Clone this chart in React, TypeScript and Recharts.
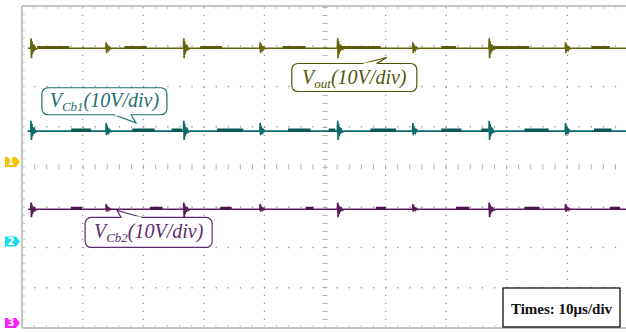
import React from 'react';
import { LineChart, Line, XAxis, YAxis, ReferenceLine, ReferenceDot } from 'recharts';

// time in µs (10 µs/div), level in divisions (0 = bottom of screen)
const xMajor = [0, 10, 20, 30, 40, 50, 60, 70, 80, 90, 100];
const yMajor = [0, 1, 2, 3, 4, 5, 6, 7, 8];
const xMinor = Array.from({ length: 51 }, (_, i) => i * 2);
const yMinor = Array.from({ length: 41 }, (_, i) => +(i * 0.2).toFixed(1));

const bigSpikeTimes = [1.5, 26.7, 52.1, 77.1];
const smallSpikeTimes = [13.9, 39.3, 64.5, 89.7];

// ringing pattern of one switching spike: [dt µs, relative amplitude]
const ringShape = [
  [-0.05, 0], [0, 1], [0.06, -1], [0.14, 0.7], [0.22, -0.6], [0.32, 0.4],
  [0.45, -0.3], [0.6, 0.15], [0.8, -0.1], [1.0, 0],
];

const voutLevel = 6.95;
const vcb1Level = 4.89;
const vcb2Level = 2.95;

const voutBig = { up: 0.25, down: 0.25 };
const voutSmall = { up: 0.15, down: 0.12 };
const vcb1Big = { up: 0.26, down: 0.22 };
const vcb1Small = { up: 0.2, down: 0.1 };
const vcb2Big = { up: 0.17, down: 0.2 };
const vcb2Small = { up: 0.13, down: 0.06 };

// thicker noisy stretches of each trace [start, end] µs
const voutBands = [[2.5, 7.8], [16.9, 20.6], [29.4, 33], [43, 46.8], [52.5, 59.2], [69.2, 71.6], [77.8, 83.7], [94, 97]];
const vcb1Bands = [[8.1, 11.4], [18.2, 21.9], [24.7, 26.4], [32.2, 36.5], [43.9, 47.6], [50.6, 51.7], [57.5, 61.7], [69.2, 72.5], [75.8, 76.9], [82.9, 86.9], [94.4, 97.3]];
const vcb2Bands = [[8.1, 9.9], [21.1, 23.2], [32.7, 34.6], [46.8, 48.1], [58.4, 60.0], [71.6, 73.8], [82.9, 85.4], [97.0, 98.7]];

// channel ground markers
const markerNames = ['1', '2', '3'];
const markerLevels = [4.125, 2.15, 0.125];
const markerColors = ['#f5c200', '#19dcf0', '#ff1cff'];

// callout labels, anchored at the pointer tip
const labelSubs = ['out', 'Cb1', 'Cb2'];
const labelTimes = [60.2, 18.8, 15.7];
const labelLevels = [6.72, 5.1, 2.92];
const labelColors = ['#55550a', '#1f6e6e', '#5e2b6e'];
const labelBoxes = [
  { l: -95, r: 30, t: 6, b: 34, b1: -24, b2: -10, edge: 'top' },
  { l: -94, r: 31, t: -35, b: -8, b1: -22, b2: -5, edge: 'bottom' },
  { l: -32, r: 95, t: 7, b: 37, b1: 4, b2: 25, edge: 'top' },
];

type Amp = { up: number; down: number };

const buildTrace = (level: number, start: number, big: Amp, small: Amp) => {
  const spikes = [
    ...bigSpikeTimes.map((t) => ({ t, a: big })),
    ...smallSpikeTimes.map((t) => ({ t, a: small })),
  ].sort((p, q) => p.t - q.t);
  const pts: { t: number; v: number }[] = [{ t: start, v: level }];
  spikes.forEach((s) =>
    ringShape.forEach(([dt, r]) =>
      pts.push({ t: s.t + dt, v: level + (r >= 0 ? r * s.a.up : r * s.a.down) })
    )
  );
  pts.push({ t: 100, v: level });
  return pts;
};

const buildBand = (level: number, bands: number[][]) =>
  bands.flatMap(([s, e]) => [
    { t: s, v: level + 0.02 },
    { t: e, v: level + 0.02 },
    { t: e + 0.001, v: null },
  ]);

const voutData = buildTrace(voutLevel, 1.0, voutBig, voutSmall);
const vcb1Data = buildTrace(vcb1Level, 0.9, vcb1Big, vcb1Small);
const vcb2Data = buildTrace(vcb2Level, 1.0, vcb2Big, vcb2Small);

const serif = "'Times New Roman', 'Liberation Serif', serif";
const gridColor = '#9a9a9a';
const borderColor = '#c4c4c4';

const Callout = (props: any) => {
  const { cx, cy, box, color, sub } = props;
  const { l, r, t, b, b1, b2, edge } = box;
  const x0 = cx + l;
  const y0 = cy + t;
  const w = r - l;
  const h = b - t;
  const ey = edge === 'top' ? cy + t : cy + b;
  return (
    <g>
      <rect x={x0} y={y0} width={w} height={h} rx={6} fill="#fff" stroke={color} strokeWidth={1.2} />
      <polyline points={`${cx + b1},${ey} ${cx},${cy} ${cx + b2},${ey}`} fill="#fff" stroke={color} strokeWidth={1.2} />
      <line x1={cx + b1 + 0.8} x2={cx + b2 - 0.8} y1={ey} y2={ey} stroke="#fff" strokeWidth={2} />
      <text x={x0 + w / 2} y={y0 + h / 2 + 6} textAnchor="middle" fill={color} fontFamily={serif} fontStyle="italic" fontSize={20}>
        <tspan>V</tspan>
        <tspan fontSize={13} dy={4}>{sub}</tspan>
        <tspan dy={-4}>(10V/div)</tspan>
      </text>
    </g>
  );
};

const Marker = (props: any) => {
  const { cx, cy, color, name } = props;
  return (
    <g>
      <polygon
        points={`${cx - 17},${cy - 5} ${cx - 6},${cy - 5} ${cx - 2},${cy} ${cx - 6},${cy + 5} ${cx - 17},${cy + 5}`}
        fill={color}
      />
      <text x={cx - 11} y={cy + 3.5} textAnchor="middle" fill="#fff" fontSize={10} fontWeight="bold" fontFamily="'DejaVu Sans', sans-serif">
        {name}
      </text>
    </g>
  );
};

const TimeBox = (props: any) => {
  const { cx, cy } = props;
  return (
    <g>
      <rect x={cx - 125} y={cy - 40} width={117} height={39} fill="#fff" stroke="#111" strokeWidth={1.3} />
      <text x={cx - 66.5} y={cy - 14} textAnchor="middle" fill="#111" fontFamily={serif} fontWeight="bold" fontSize={15}>
        Times: 10μs/div
      </text>
    </g>
  );
};

export default function App() {
  const noLabel = () => '';
  const axisLine = { stroke: borderColor, strokeWidth: 2 };
  const tickLine = { stroke: borderColor, strokeWidth: 1 };
  return (
    <div style={{ position: 'absolute', left: 0, top: 0, width: 626, height: 332, overflow: 'hidden', background: '#fff' }}>
      <LineChart width={628} height={332} margin={{ top: 6, right: 0, bottom: 4, left: 22 }}>
        <XAxis
          xAxisId="top"
          orientation="top"
          type="number"
          dataKey="t"
          domain={[0, 100]}
          allowDataOverflow
          ticks={xMinor}
          interval={0}
          height={1}
          mirror
          tickSize={3}
          tickFormatter={noLabel}
          axisLine={axisLine}
          tickLine={tickLine}
        />
        <XAxis
          xAxisId="bottom"
          orientation="bottom"
          type="number"
          dataKey="t"
          domain={[0, 100]}
          allowDataOverflow
          ticks={xMinor}
          interval={0}
          height={1}
          mirror
          tickSize={3}
          tickFormatter={noLabel}
          axisLine={axisLine}
          tickLine={tickLine}
        />
        <YAxis
          type="number"
          domain={[0, 8]}
          allowDataOverflow
          ticks={yMinor}
          interval={0}
          width={1}
          mirror
          tickSize={3}
          tickFormatter={noLabel}
          axisLine={axisLine}
          tickLine={tickLine}
        />

        {xMajor.slice(1, -1).map((x) => (
          <ReferenceLine
            key={`gx${x}`}
            xAxisId="bottom"
            x={x}
            stroke={x === 50 ? '#b4b4b4' : gridColor}
            strokeWidth={x === 50 ? 5 : 1.3}
            strokeDasharray={x === 50 ? '1.1 6.9' : '1.3 6.7'}
          />
        ))}
        {yMajor.slice(1, -1).map((y) => (
          <ReferenceLine
            key={`gy${y}`}
            xAxisId="bottom"
            y={y}
            stroke={y === 4 ? '#b4b4b4' : gridColor}
            strokeWidth={y === 4 ? 5 : 1.3}
            strokeDasharray={y === 4 ? '1.1 11' : '1.3 10.8'}
          />
        ))}

        <Line xAxisId="bottom" data={voutData} dataKey="v" type="linear" stroke="#66660c" strokeWidth={1.7} dot={false} activeDot={false} isAnimationActive={false} />
        <Line xAxisId="bottom" data={buildBand(voutLevel, voutBands)} dataKey="v" type="linear" stroke="#5c5c08" strokeWidth={3} dot={false} activeDot={false} isAnimationActive={false} />
        <Line xAxisId="bottom" data={vcb1Data} dataKey="v" type="linear" stroke="#0e6a6a" strokeWidth={1.7} dot={false} activeDot={false} isAnimationActive={false} />
        <Line xAxisId="bottom" data={buildBand(vcb1Level, vcb1Bands)} dataKey="v" type="linear" stroke="#0a5858" strokeWidth={3.5} dot={false} activeDot={false} isAnimationActive={false} />
        <Line xAxisId="bottom" data={vcb2Data} dataKey="v" type="linear" stroke="#5a1c5c" strokeWidth={1.7} dot={false} activeDot={false} isAnimationActive={false} />
        <Line xAxisId="bottom" data={buildBand(vcb2Level, vcb2Bands)} dataKey="v" type="linear" stroke="#4e144f" strokeWidth={3.3} dot={false} activeDot={false} isAnimationActive={false} />

        {markerNames.map((n, i) => (
          <ReferenceDot
            key={`m${n}`}
            xAxisId="bottom"
            x={0}
            y={markerLevels[i]}
            ifOverflow="visible"
            shape={(p: any) => <Marker {...p} color={markerColors[i]} name={n} />}
          />
        ))}

        {labelSubs.map((s, i) => (
          <ReferenceDot
            key={`l${s}`}
            xAxisId="bottom"
            x={labelTimes[i]}
            y={labelLevels[i]}
            ifOverflow="visible"
            shape={(p: any) => <Callout {...p} box={labelBoxes[i]} color={labelColors[i]} sub={s} />}
          />
        ))}

        <ReferenceDot xAxisId="bottom" x={100} y={0} ifOverflow="visible" shape={(p: any) => <TimeBox {...p} />} />
      </LineChart>
    </div>
  );
}
